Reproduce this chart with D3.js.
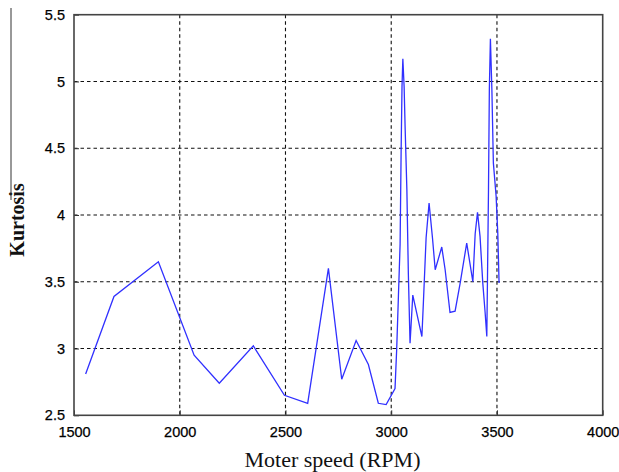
<!DOCTYPE html>
<html>
<head>
<meta charset="utf-8">
<script src="https://cdn.jsdelivr.net/npm/d3@7"></script>
<style>
  html, body { margin: 0; padding: 0; background: #fff; }
  svg { display: block; }
</style>
</head>
<body>
<svg id="chart" width="619" height="472"></svg>
<script>
// Motor speed (RPM) and kurtosis of the measured signal
const speed = [1555, 1689, 1899, 2068, 2187, 2348, 2495, 2605, 2703, 2766,
  2834, 2892, 2939, 2976, 3018, 3026, 3034, 3042, 3047, 3051,
  3055, 3061, 3066, 3074, 3081, 3089, 3102, 3145, 3152, 3165,
  3179, 3195, 3208, 3239, 3255, 3278, 3302, 3326, 3357, 3386,
  3397, 3408, 3420, 3433, 3444, 3452, 3460, 3464, 3469, 3476,
  3483, 3496, 3504, 3510];
const kurtosis = [2.81, 3.39, 3.65, 2.95, 2.74, 3.02, 2.65, 2.59, 3.60, 2.77,
  3.06, 2.88, 2.59, 2.58, 2.70, 3.00, 3.39, 3.78, 4.50, 4.96,
  5.17, 4.96, 4.64, 4.19, 3.56, 3.04, 3.40, 3.09, 3.34, 3.83,
  4.09, 3.83, 3.59, 3.76, 3.59, 3.27, 3.28, 3.49, 3.79, 3.50,
  3.86, 4.02, 3.84, 3.49, 3.27, 3.09, 4.19, 4.94, 5.32, 4.94,
  4.39, 4.14, 3.86, 3.49];
const xTicks = [1500, 2000, 2500, 3000, 3500, 4000];
const yTicks = [2.5, 3, 3.5, 4, 4.5, 5, 5.5];

const svg = d3.select("#chart");
const plot = { left: 74, right: 602.7, top: 14.7, bottom: 415.3 };

const x = d3.scaleLinear().domain([1500, 4000]).range([plot.left, plot.right]);
const y = d3.scaleLinear().domain([2.5, 5.5]).range([plot.bottom, plot.top]);

// dashed grid
const grid = svg.append("g").attr("stroke", "#111").attr("stroke-width", 1.1)
  .attr("stroke-dasharray", "3.5,3");
grid.selectAll("line.gx").data(xTicks.slice(1, -1)).join("line")
  .attr("x1", d => x(d)).attr("x2", d => x(d))
  .attr("y1", plot.top).attr("y2", plot.bottom);
grid.selectAll("line.gy").data(yTicks.slice(1, -1)).join("line")
  .attr("x1", plot.left).attr("x2", plot.right)
  .attr("y1", d => y(d)).attr("y2", d => y(d));

// axes with inward ticks
const fontTick = "'Liberation Sans', Arial, sans-serif";
const xAxis = svg.append("g").attr("transform", `translate(0,${plot.bottom})`)
  .call(d3.axisBottom(x).tickValues(xTicks).tickSize(-5).tickPadding(11)
    .tickFormat(d3.format("d")));
const yAxis = svg.append("g").attr("transform", `translate(${plot.left},0)`)
  .call(d3.axisLeft(y).tickValues(yTicks).tickSize(-5).tickPadding(9)
    .tickFormat(d => String(d)));
[xAxis, yAxis].forEach(g => {
  g.select(".domain").remove();
  g.selectAll(".tick line").attr("stroke", "#333").attr("stroke-width", 1);
  g.selectAll(".tick text").attr("font-family", fontTick)
    .attr("font-size", 14.5).attr("fill", "#000")
    .attr("stroke", "#000").attr("stroke-width", 0.25);
});

// line
const line = d3.line().x((d, i) => x(speed[i])).y(d => y(d));
svg.append("path").datum(kurtosis)
  .attr("d", line).attr("fill", "none")
  .attr("stroke", "#3030ff").attr("stroke-width", 1.3)
  .attr("stroke-linejoin", "miter");

// frame
svg.append("rect").attr("x", plot.left).attr("y", plot.top)
  .attr("width", plot.right - plot.left).attr("height", plot.bottom - plot.top)
  .attr("fill", "none").attr("stroke", "#444").attr("stroke-width", 1.6);

// axis titles
svg.append("text").attr("x", 332.5).attr("y", 467)
  .attr("text-anchor", "middle")
  .attr("font-family", "'Liberation Serif', 'Times New Roman', serif")
  .attr("font-size", 22).attr("fill", "#111")
  .text("Moter speed (RPM)");
svg.append("text").attr("transform", "translate(23.5,220) rotate(-90)")
  .attr("text-anchor", "middle")
  .attr("font-family", "'Liberation Serif', 'Times New Roman', serif")
  .attr("font-size", 20).attr("font-weight", "bold").attr("fill", "#111")
  .text("Kurtosis");

// thin rule along the left edge
svg.append("line").attr("x1", 11).attr("x2", 11).attr("y1", 8).attr("y2", 200)
  .attr("stroke", "#333").attr("stroke-width", 1);
</script>
</body>
</html>
